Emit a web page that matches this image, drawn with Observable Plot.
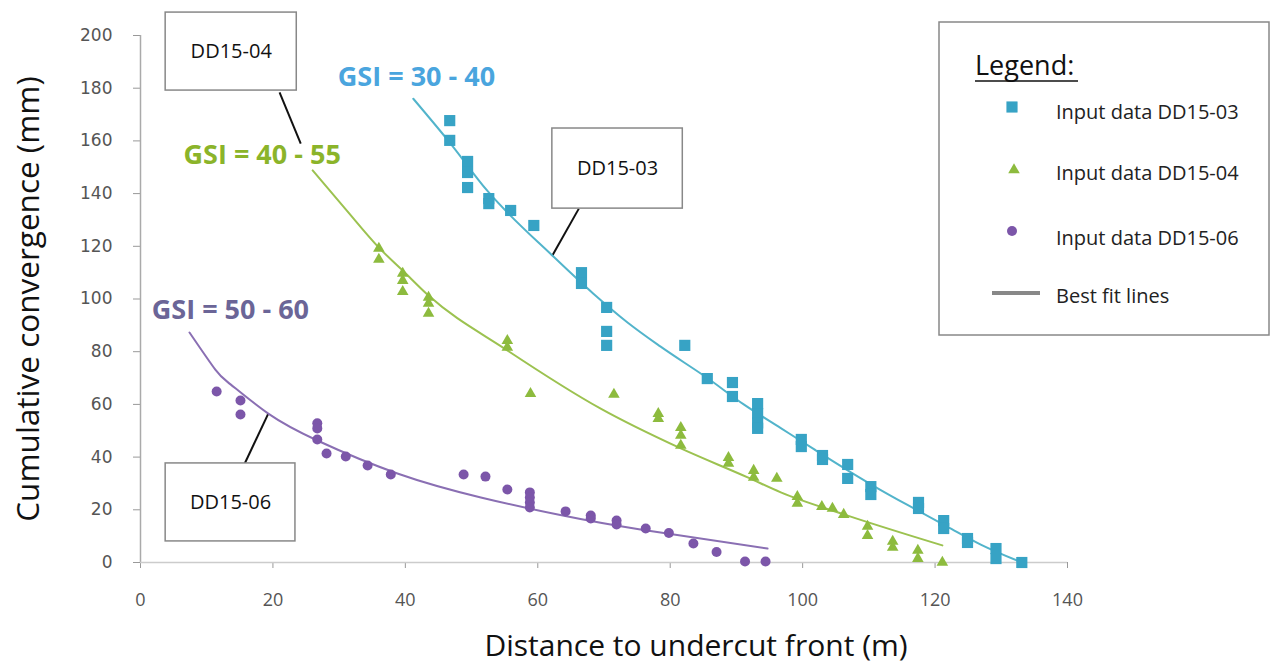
<!DOCTYPE html>
<html>
<head>
<meta charset="utf-8">
<script src="https://cdn.jsdelivr.net/npm/d3@7"></script>
<script src="https://cdn.jsdelivr.net/npm/@observablehq/plot@0.6"></script>
<style>
  html, body { margin: 0; padding: 0; background: #fff; }
  #chart { position: relative; width: 1271px; height: 669px; }
</style>
</head>
<body>
<div id="chart"></div>
<script>
// ---- Data ----
const xTicks = [0, 20, 40, 60, 80, 100, 120, 140];
const yTicks = [0, 20, 40, 60, 80, 100, 120, 140, 160, 180, 200];

// Input data DD15-03 (squares)
const dd03x = [46.7, 46.7, 49.4, 49.4, 49.4, 52.6, 52.6, 55.9, 59.4, 66.6, 66.6, 70.4, 70.4, 70.4, 82.2, 85.6, 89.4, 89.4, 93.2, 93.2, 93.2, 93.2, 99.8, 99.8, 103, 103, 106.8, 106.8, 110.3, 110.3, 117.5, 117.5, 121.3, 121.3, 124.9, 124.9, 129.2, 129.2, 133.1];
const dd03y = [167.7, 160.2, 152.2, 148, 142.3, 138.1, 136.2, 133.6, 127.9, 110, 105.9, 96.8, 87.7, 82.4, 82.4, 69.8, 68.3, 63, 60.3, 56.5, 53, 50.9, 46.7, 44, 40.6, 39.1, 37.2, 31.9, 28.8, 25.8, 22.8, 20.5, 15.9, 12.9, 9.1, 7.6, 5.3, 1.5, 0];

// Input data DD15-04 (triangles)
const dd04x = [36, 36, 39.6, 39.6, 39.6, 43.5, 43.5, 43.5, 55.4, 55.4, 58.9, 71.5, 78.2, 78.2, 81.6, 81.6, 81.6, 88.8, 88.8, 92.6, 92.6, 96.1, 99.2, 99.2, 102.9, 104.5, 106.2, 109.8, 109.8, 113.6, 113.6, 117.4, 117.4, 121.1];
const dd04y = [119.2, 115, 109.7, 107, 102.8, 100.6, 98.3, 94.5, 84.2, 81.6, 64.1, 63.8, 56.5, 54.6, 51.2, 48.2, 44.4, 39.8, 37.6, 34.9, 32.3, 31.9, 25, 22.4, 21.2, 20.5, 18.2, 13.7, 10.2, 8, 5.7, 4.6, 1.5, 0];

// Input data DD15-06 (circles)
const dd06x = [11.5, 15.1, 15.1, 26.7, 26.7, 26.7, 28.1, 31, 34.3, 37.8, 48.8, 52.1, 55.4, 58.8, 58.8, 58.8, 58.8, 64.2, 68, 68, 71.9, 71.9, 76.3, 79.8, 83.5, 87, 91.3, 94.4];
const dd06y = [64.9, 61.5, 56.2, 52.8, 50.9, 46.7, 41.4, 40.2, 36.8, 33.4, 33.4, 32.6, 27.7, 26.6, 24.7, 22.8, 20.9, 19.4, 17.8, 16.7, 15.9, 14.4, 12.9, 11.2, 7.2, 4, 0.4, 0.4];

// Best fit lines
const fit03x = [41.2, 46.5, 52.4, 62.4, 68.4, 73.6, 78.5, 85.6, 91.1, 96.7, 101.7, 106.8, 111.8, 116.8, 121.9, 126.9, 133.1];
const fit03y = [176, 160, 141, 116, 102, 91, 82, 70, 60, 51, 43, 35, 27.5, 20.5, 13.5, 6.8, 0];
const fit04x = [26, 31, 36, 39.6, 43.5, 55.4, 69.5, 81.6, 91.7, 96.7, 106.8, 121.1];
const fit04y = [148.8, 134, 119.5, 110.8, 101.3, 80.5, 58.4, 43.3, 32.3, 26.6, 17.8, 6.5];
const fit06x = [7.4, 11.3, 13.6, 19.3, 26.7, 38.8, 51.4, 63.4, 75.5, 94.7];
const fit06y = [87.3, 73.2, 67.6, 56.5, 46.3, 33.8, 24.7, 18, 12.5, 5.3];

// GSI labels
const gsiLabels = ["GSI = 30 - 40", "GSI = 40 - 55", "GSI = 50 - 60"];
const gsiX = [29.8, 6.5, 1.7];
const gsiY = [184, 154.5, 95.6];
const gsiColors = ["#4aa5de", "#8bb42a", "#6b6597"];

// Callout boxes
const boxNames = ["DD15-04", "DD15-03", "DD15-06"];
const boxX1 = [3.8, 62.2, 3.8];
const boxX2 = [23.6, 81.9, 23.4];
const boxY1 = [179.1, 134.3, 8.0];
const boxY2 = [208.7, 164.7, 37.6];
const leadX1 = [21.0, 66.2, 15.6];
const leadY1 = [178.4, 134.3, 36.8];
const leadX2 = [24.2, 62.2, 19.3];
const leadY2 = [159.0, 116.5, 56.5];

const legendLabels = ["Input data DD15-03", "Input data DD15-04", "Input data DD15-06", "Best fit lines"];

// ---- Build tables ----
const pts03 = dd03x.map((x, i) => ({x, y: dd03y[i]}));
const pts04 = dd04x.map((x, i) => ({x, y: dd04y[i]}));
const pts06 = dd06x.map((x, i) => ({x, y: dd06y[i]}));
const line03 = fit03x.map((x, i) => ({x, y: fit03y[i]}));
const line04 = fit04x.map((x, i) => ({x, y: fit04y[i]}));
const line06 = fit06x.map((x, i) => ({x, y: fit06y[i]}));
const gsi = gsiLabels.map((t, i) => ({t, x: gsiX[i], y: gsiY[i], c: gsiColors[i]}));
const boxes = boxNames.map((n, i) => ({n, x1: boxX1[i], x2: boxX2[i], y1: boxY1[i], y2: boxY2[i],
  lx1: leadX1[i], ly1: leadY1[i], lx2: leadX2[i], ly2: leadY2[i]}));

const C03 = "#37a3c5", C04 = "#8dbb3e", C06 = "#7c56a9";
const L03 = "#52b4cb", L04 = "#9cc250", L06 = "#8a6fb3";
const FONT = "'Open Sans', Lato, sans-serif";

const plot = Plot.plot({
  width: 1271,
  height: 669,
  marginLeft: 140,
  marginRight: 204,
  marginTop: 35,
  marginBottom: 107,
  style: {fontFamily: FONT, background: "#fff", overflow: "visible"},
  x: {domain: [0, 140]},
  y: {domain: [0, 200]},
  marks: [
    Plot.axisY({ticks: yTicks, tickSize: 7, tickPadding: 21, label: null, fontSize: 17, fill: "#555",
      fontFamily: "'DejaVu Sans', sans-serif", stroke: "#999"}),
    Plot.axisX({ticks: xTicks, tickSize: 6, tickPadding: 25, label: null, fontSize: 18, fill: "#555", stroke: "#999"}),
    Plot.ruleX([0], {stroke: "#aaa", strokeWidth: 1.5}),
    Plot.ruleY([0], {stroke: "#ccc", strokeWidth: 1.5}),
    Plot.text(["Cumulative convergence (mm)"], {frameAnchor: "left", textAnchor: "middle", dx: -112, rotate: -90,
      fontSize: 31.5, fill: "#111"}),
    Plot.text(["Distance to undercut front (m)"], {frameAnchor: "bottom", textAnchor: "middle", dx: 92, dy: 93,
      fontSize: 30, fill: "#111"}),
    // callout boxes
    Plot.link(boxes, {x1: "lx1", y1: "ly1", x2: "lx2", y2: "ly2", stroke: "#111", strokeWidth: 2}),
    Plot.rect(boxes, {x1: "x1", x2: "x2", y1: "y1", y2: "y2", fill: "#fff", stroke: "#888", strokeWidth: 1.5}),
    Plot.text(boxes, {x: d => (d.x1 + d.x2) / 2, y: d => (d.y1 + d.y2) / 2, text: "n", fontSize: 20, fill: "#111"}),
    // fit lines
    Plot.line(line03, {x: "x", y: "y", curve: "monotone-x", stroke: L03, strokeWidth: 2}),
    Plot.line(line04, {x: "x", y: "y", curve: "monotone-x", stroke: L04, strokeWidth: 2}),
    Plot.line(line06, {x: "x", y: "y", curve: "natural", stroke: L06, strokeWidth: 2}),
    // points
    Plot.dot(pts03, {x: "x", y: "y", symbol: "square", r: 6.3, fill: C03}),
    Plot.dot(pts04, {x: "x", y: "y", symbol: "triangle", r: 4.3, fill: C04}),
    Plot.dot(pts06, {x: "x", y: "y", symbol: "circle", r: 5, fill: C06}),
    // GSI labels
    Plot.text(gsi, {x: "x", y: "y", text: "t", fill: "c", textAnchor: "start", fontSize: 27, fontWeight: "bold",
      fontFamily: "'Open Sans', sans-serif"})
  ]
});

document.getElementById("chart").appendChild(plot);

// ---- Legend (drawn into the same SVG) ----
const svg = d3.select(plot);
const lg = svg.append("g").attr("font-family", FONT).attr("text-anchor", "start");
lg.append("rect").attr("x", 939).attr("y", 22).attr("width", 330).attr("height", 313)
  .attr("fill", "#fff").attr("stroke", "#888").attr("stroke-width", 1.5);
lg.append("text").attr("x", 975).attr("y", 75).attr("font-size", 27).attr("fill", "#111").text("Legend:");
lg.append("line").attr("x1", 975).attr("x2", 1078).attr("y1", 81).attr("y2", 81).attr("stroke", "#111").attr("stroke-width", 1.5);
const textY = [112, 173, 238, 296];
const symY = [107, 170, 231];
const sym = [d3.symbolSquare, d3.symbolTriangle, d3.symbolCircle];
const symCol = [C03, C04, C06];
const symSize = [Math.PI * 6.3 * 6.3, Math.PI * 4.3 * 4.3, Math.PI * 5 * 5];
const symX = [1012, 1014, 1012];
for (let i = 0; i < 3; i++) {
  lg.append("path").attr("d", d3.symbol(sym[i], symSize[i])())
    .attr("transform", `translate(${symX[i]},${symY[i]})`).attr("fill", symCol[i]);
}
lg.append("line").attr("x1", 992).attr("x2", 1040).attr("y1", 293).attr("y2", 293)
  .attr("stroke", "#888").attr("stroke-width", 4);
legendLabels.forEach((t, i) => {
  lg.append("text").attr("x", 1056).attr("y", textY[i]).attr("dy", "0.35em").attr("font-size", 20)
    .attr("fill", "#222").text(t);
});
</script>
</body>
</html>
